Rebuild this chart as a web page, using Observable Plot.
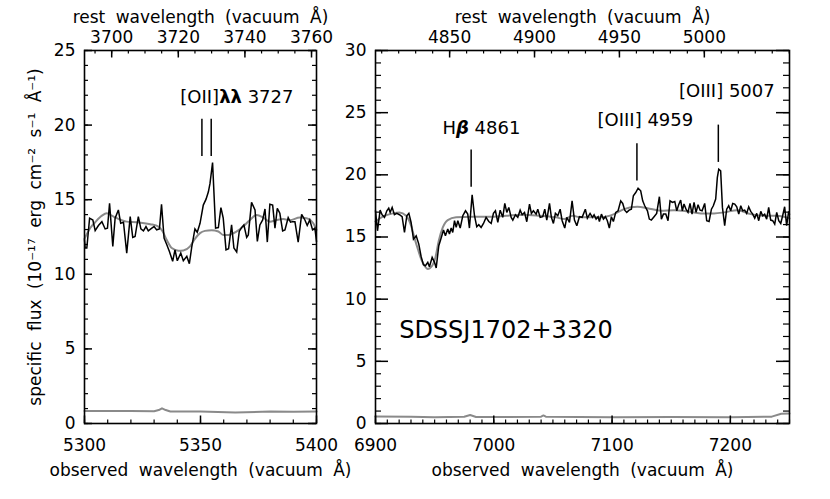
<!DOCTYPE html>
<html>
<head>
<meta charset="utf-8">
<script src="https://cdn.jsdelivr.net/npm/d3@7"></script>
<script src="https://cdn.jsdelivr.net/npm/@observablehq/plot@0.6"></script>
<style>
  html, body { margin: 0; padding: 0; background: #fff; }
  #wrap { display: flex; flex-direction: row; width: 830px; height: 499px; }
  #wrap svg { position: relative; }
  #wrap svg:first-child { z-index: 2; }
  svg text { font-family: "DejaVu Sans", sans-serif; }
</style>
</head>
<body>
<div id="wrap"></div>
<script>
// ---------------- data ----------------
const redshift = 0.4356;

// Left panel: observed spectrum around [OII]
const waveL = [5300.0,5300.3,5301.0,5302.2,5303.6,5304.6,5306.0,5307.5,5308.9,5309.9,5310.8,5312.2,5313.2,5314.6,5315.6,5316.8,5318.2,5319.7,5320.8,5321.8,5323.2,5324.3,5325.4,5326.5,5327.5,5329.0,5330.0,5331.1,5332.3,5333.2,5334.3,5335.4,5336.6,5338.0,5339.0,5340.0,5341.5,5342.6,5344.1,5345.2,5346.2,5347.6,5348.6,5349.8,5351.2,5352.4,5353.4,5354.1,5355.2,5356.5,5357.7,5358.8,5359.8,5361.0,5362.1,5363.4,5364.4,5365.6,5366.7,5367.7,5368.7,5369.9,5370.6,5372.0,5373.5,5374.5,5375.6,5376.8,5377.8,5378.8,5379.9,5381.1,5382.1,5383.1,5384.2,5385.4,5386.4,5387.8,5388.8,5389.7,5390.7,5392.1,5393.6,5395.0,5396.0,5397.1,5398.3,5399.3,5400.0];
const fluxL = [12.31,11.76,11.76,13.76,13.64,12.93,13.27,13.53,13.04,13.09,14.76,11.87,13.76,14.31,13.42,13.49,11.42,13.87,12.47,12.53,13.87,13.04,12.91,13.2,12.91,13.09,13.2,12.98,13.04,14.69,12.42,12.02,11.53,10.87,11.64,10.91,11.42,10.91,11.2,10.71,11.8,13.04,12.82,13.42,14.64,15.04,15.53,16.09,17.49,13.09,13.13,14.47,13.76,11.64,11.71,13.31,11.76,11.49,12.87,13.13,13.31,12.47,12.64,14.82,14.31,12.2,13.31,13.64,14.38,12.16,14.69,14.64,13.09,14.42,14.09,12.91,12.98,13.8,13.49,13.53,13.53,12.16,14.02,13.64,13.27,13.64,12.98,13.09,12.2];
const modelWaveL = [5300.0,5302.4,5304.6,5307.5,5309.6,5311.8,5313.9,5318.2,5322.5,5328.3,5331.9,5333.7,5335.4,5337.6,5340.5,5342.6,5345.5,5347.6,5349.8,5351.9,5354.8,5357.7,5359.8,5362.0,5365.6,5368.4,5371.3,5374.2,5377.1,5379.9,5382.8,5385.7,5388.5,5392.8,5395.7,5398.6,5400.0];
const modelFluxL = [12.38,13.09,13.49,13.93,14.09,13.93,13.76,13.53,13.49,13.36,13.2,12.87,12.31,11.76,11.58,11.6,11.87,12.38,12.76,12.91,12.96,12.87,12.64,12.64,12.87,13.2,13.64,13.98,13.8,13.53,13.64,13.71,13.62,13.8,13.76,13.42,12.98];
const errWaveL = [5300,5310,5320,5330,5332,5333.4,5335,5337,5350,5365,5380,5390,5400];
const errFluxL = [0.84,0.83,0.84,0.82,0.9,1.02,0.9,0.8,0.81,0.74,0.8,0.78,0.8];

// Right panel: observed spectrum around Hbeta / [OIII]
const waveR = [6900.0,6901.7,6903.9,6905.6,6907.6,6909.6,6911.2,6912.4,6914.1,6916.0,6918.0,6920.3,6922.5,6924.5,6926.5,6928.2,6930.1,6932.1,6934.4,6936.6,6938.6,6940.5,6942.2,6944.2,6945.6,6947.9,6949.9,6951.3,6953.5,6955.5,6957.5,6959.1,6961.1,6962.5,6964.0,6965.3,6966.8,6968.2,6969.6,6971.6,6973.8,6976.1,6978.0,6979.4,6981.7,6983.7,6985.6,6987.3,6989.3,6991.3,6993.5,6995.8,6997.8,6999.7,7001.4,7003.4,7005.4,7007.6,7009.3,7011.0,7012.7,7014.7,7016.1,7018.3,7020.3,7022.3,7024.0,7026.0,7027.9,7030.2,7031.8,7033.5,7035.8,7037.2,7039.2,7041.4,7043.1,7044.8,7047.1,7048.7,7050.4,7052.1,7054.1,7056.1,7057.8,7060.0,7061.7,7064.0,7066.2,7068.2,7070.2,7072.4,7074.7,7077.4,7079.1,7081.4,7083.4,7084.8,7086.5,7088.2,7089.3,7091.0,7092.7,7094.4,7096.0,7097.7,7099.4,7101.1,7103.1,7105.1,7107.3,7109.0,7110.7,7112.4,7114.4,7116.3,7118.0,7120.0,7122.0,7124.2,7125.9,7127.6,7129.9,7131.5,7133.2,7135.5,7137.7,7140.0,7141.7,7143.4,7145.4,7147.3,7149.0,7151.0,7153.0,7154.7,7156.3,7158.0,7159.4,7160.8,7162.5,7164.2,7165.9,7167.6,7169.3,7171.0,7172.7,7174.4,7176.1,7178.3,7180.0,7182.0,7184.0,7185.6,7187.6,7189.0,7190.2,7191.8,7193.3,7195.2,7196.9,7198.6,7200.3,7202.0,7203.7,7205.4,7207.1,7208.8,7210.4,7212.1,7213.8,7215.5,7217.2,7218.9,7220.6,7222.3,7224.0,7225.7,7227.3,7229.0,7230.7,7232.4,7234.1,7235.8,7237.5,7239.2,7240.9,7242.6,7244.2,7245.9,7247.6,7249.3,7250.0];
const fluxR = [17.11,15.5,17.16,16.79,16.58,17.11,17.32,16.98,17.38,16.79,16.9,16.79,16.63,15.37,16.71,16.9,16.17,14.83,15.1,14.43,13.42,12.77,12.69,12.96,12.61,13.36,12.96,12.51,14.3,14.92,15.56,15.1,15.64,15.24,15.72,15.37,16.31,15.77,16.31,15.72,16.71,17.11,16.84,15.72,18.39,16.71,15.83,15.99,15.77,16.09,16.58,16.25,16.09,16.9,17.11,16.17,17.16,16.58,17.7,16.98,17.38,16.58,16.36,16.79,16.58,17.16,16.79,16.98,16.23,17.65,16.9,17.11,16.84,17.24,16.58,16.63,17.24,16.36,17.7,16.58,16.09,16.9,16.71,17.24,16.31,15.72,16.58,16.17,17.91,16.36,15.9,16.63,16.58,17.24,16.52,16.9,16.58,16.79,16.44,16.63,16.25,16.84,16.44,16.63,16.31,15.72,16.63,16.25,16.98,17.11,17.91,17.7,17.16,16.98,17.16,17.24,18.32,18.58,18.93,18.72,17.91,17.51,17.11,16.44,16.36,16.63,16.9,18.24,16.44,16.84,16.84,16.31,17.91,17.78,17.86,17.11,17.59,17.97,17.11,17.65,17.24,16.98,17.7,16.84,17.78,16.98,17.59,17.16,17.11,17.7,16.31,16.25,17.24,17.51,18.05,19.79,20.46,20.32,17.38,15.91,17.24,17.51,17.11,17.7,17.65,17.43,16.84,17.51,17.11,17.16,16.9,17.43,17.06,16.84,16.52,16.9,16.31,17.06,16.71,16.84,16.44,17.38,16.36,16.31,16.04,16.98,16.31,16.09,16.71,17.43,15.91,17.06,16.84];
const modelWaveR = [6900.0,6906.2,6914.6,6920.3,6925.9,6930.1,6933.0,6935.8,6938.6,6941.4,6944.2,6947.9,6950.7,6953.5,6956.9,6961.1,6968.2,6982.3,6996.3,7010.4,7024.5,7038.6,7052.7,7059.7,7066.8,7073.5,7090.4,7101.7,7110.1,7121.4,7129.9,7141.1,7152.4,7163.7,7175.0,7186.2,7194.7,7205.9,7217.2,7228.5,7239.7,7250.0];
const modelFluxR = [16.25,16.63,16.9,16.98,16.71,15.91,14.91,14.03,13.23,12.69,12.43,12.69,13.36,14.7,15.77,16.36,16.58,16.63,16.63,16.71,16.79,16.71,16.58,16.44,16.7,16.58,16.58,16.84,17.24,17.43,17.32,17.11,17.16,17.06,16.9,16.9,16.98,17.16,16.84,16.71,16.71,16.5];
const errWaveR = [6900,6930,6950,6975,6980,6985,7000,7040,7042,7044,7100,7150,7200,7235,7243,7250];
const errFluxR = [0.56,0.55,0.5,0.55,0.68,0.52,0.52,0.55,0.65,0.55,0.5,0.52,0.5,0.55,0.78,0.8];

// emission-line markers (rest vacuum wavelengths)
const lineRestL = [3727.09, 3729.88];
const lineRestR = [4862.68, 4960.30, 5008.24];
const markTopL = [20.4, 20.4];
const markBotL = [17.9, 17.9];
const markTopR = [22.0, 22.5, 24.0];
const markBotR = [19.0, 19.5, 21.0];

// annotation labels (observed wavelength, flux)
const labelTextL = ["[OII]λλ 3727"];
const labelXL = [5341.3];
const labelYL = [21.5];
const labelTextR = ["Hβ 4861", "[OIII] 4959", "[OIII] 5007", "SDSSJ1702+3320"];
const labelXR = [6956.6, 7087.7, 7156.6, 6920.0];
const labelYR = [23.3, 23.9, 26.3, 6.87];

// ticks
const obsTicksL = [5300, 5350, 5400];
const restTicksL = [3700, 3720, 3740, 3760];
const obsTicksR = [6900, 7000, 7100, 7200];
const restTicksR = [4850, 4900, 4950, 5000];
const yTicksL = [0, 5, 10, 15, 20, 25];
const yTicksR = [0, 5, 10, 15, 20, 25, 30];

const xTitle = "observed wavelength (vacuum Å)";
const topTitle = "rest wavelength (vacuum Å)";
const yTitle = "specific flux (10⁻¹⁷ erg cm⁻² s⁻¹ Å⁻¹)";

// ---------------- drawing ----------------
const H = 499, MT = 50, MB = 76;
const PH = H - MT - MB;
const toObs = r => r * (1 + redshift);
const toRest = o => o / (1 + redshift);

function panel(cfg) {
  const PW = cfg.width - cfg.ml - cfg.mr;
  const spec = cfg.wave.map((w, i) => ({w, f: cfg.flux[i]}));
  const model = cfg.mwave.map((w, i) => ({w, f: cfg.mflux[i]}));
  const err = cfg.ewave.map((w, i) => ({w, f: cfg.eflux[i]}));
  const marks = cfg.lineRest.map((r, i) => ({x: toObs(r), y1: cfg.mbot[i], y2: cfg.mtop[i]}));
  const labels = cfg.ltext.map((t, i) => ({t, x: cfg.lx[i], y: cfg.ly[i]}));
  const restMinor = d3.range(cfg.restMinor[0], cfg.restMinor[1] + 1e-9, cfg.restMinor[2]).map(toObs);
  const obsMinor = d3.range(cfg.domain[0], cfg.domain[1] + 1e-9, cfg.obsMinorStep);
  const yMinor = d3.range(0, cfg.ydomain[1] + 1e-9, 1);
  const mk = [
    Plot.line(err, {x: "w", y: "f", stroke: "#8a8a8a", strokeWidth: 2, curve: "linear"}),
    Plot.line(model, {x: "w", y: "f", stroke: "#8a8a8a", strokeWidth: 2, curve: "monotone-x"}),
    Plot.line(spec, {x: "w", y: "f", stroke: "#000", strokeWidth: 1.5, strokeLinejoin: "miter", strokeMiterlimit: 3}),
    Plot.ruleX(marks, {x: "x", y1: "y1", y2: "y2", stroke: "#000", strokeWidth: 1.5}),
    Plot.text(labels.filter(d => !d.t.startsWith("SDSS")), {x: "x", y: "y", text: "t", textAnchor: "start", lineAnchor: "bottom", fontSize: 18}),
    Plot.text(labels.filter(d => d.t.startsWith("SDSS")), {x: "x", y: "y", text: "t", textAnchor: "start", lineAnchor: "bottom", fontSize: 24}),
    // bottom ticks (observed)
    Plot.ruleX(obsMinor, {insetTop: PH - 3.5, stroke: "#000", strokeWidth: 1.2}),
    Plot.ruleX(cfg.obsTicks, {insetTop: PH - 7.5, stroke: "#000", strokeWidth: 1.5}),
    // top ticks (rest)
    Plot.ruleX(restMinor, {insetBottom: PH - 3.5, stroke: "#000", strokeWidth: 1.2}),
    Plot.ruleX(cfg.restTicks.map(toObs), {insetBottom: PH - 7.5, stroke: "#000", strokeWidth: 1.5}),
    // y ticks left & right
    Plot.ruleY(yMinor, {insetRight: PW - cfg.yMinorLen, stroke: "#000", strokeWidth: 1.2}),
    Plot.ruleY(cfg.yTicks, {insetRight: PW - cfg.yMajorLen, stroke: "#000", strokeWidth: 1.5}),
    Plot.ruleY(yMinor, {insetLeft: PW - cfg.yMinorLen, stroke: "#000", strokeWidth: 1.2}),
    Plot.ruleY(cfg.yTicks, {insetLeft: PW - cfg.yMajorLen, stroke: "#000", strokeWidth: 1.5}),
    Plot.frame({stroke: "#000", strokeWidth: 1.6}),
    Plot.axisX(cfg.obsTicks, {anchor: "bottom", tickSize: 0, tickPadding: 15, fontSize: 17, label: null, tickFormat: d => String(d)}),
    Plot.axisX(cfg.restTicks.map(toObs), {anchor: "top", tickSize: 0, tickPadding: 8, fontSize: 17, label: null, tickFormat: d => String(Math.round(toRest(d)))}),
    Plot.axisY(cfg.yTicks, {anchor: "left", tickSize: 0, tickPadding: 9, fontSize: 17, label: null, tickFormat: d => String(d)}),
    Plot.text([xTitle], {frameAnchor: "bottom", dy: 52, lineAnchor: "bottom", textAnchor: "middle", fontSize: 17}),
    Plot.text([topTitle], {frameAnchor: "top", dy: -28, lineAnchor: "bottom", textAnchor: "middle", fontSize: 17})
  ];
  if (cfg.yTitle) {
    mk.push(Plot.text([cfg.yTitle], {frameAnchor: "left", dx: -49, rotate: -90, lineAnchor: "middle", textAnchor: "middle", fontSize: 17}));
  }
  return Plot.plot({
    width: cfg.width, height: H,
    marginLeft: cfg.ml, marginRight: cfg.mr, marginTop: MT, marginBottom: MB,
    style: {fontFamily: "DejaVu Sans", fontSize: "17px", background: "transparent", overflow: "visible", color: "#000"},
    x: {domain: cfg.domain, axis: null},
    y: {domain: cfg.ydomain, axis: null},
    marks: mk
  });
}

const left = panel({
  width: 330, ml: 84, mr: 14,
  domain: [5300, 5400], ydomain: [0, 25],
  wave: waveL, flux: fluxL, mwave: modelWaveL, mflux: modelFluxL, ewave: errWaveL, eflux: errFluxL,
  lineRest: lineRestL, mtop: markTopL, mbot: markBotL,
  ltext: labelTextL, lx: labelXL, ly: labelYL,
  obsTicks: obsTicksL, restTicks: restTicksL, yTicks: yTicksL,
  restMinor: [3695, 3760, 5], obsMinorStep: 10, yMinorLen: 4, yMajorLen: 8,
  yTitle: yTitle
});
const right = panel({
  width: 500, ml: 45, mr: 41,
  domain: [6900, 7250], ydomain: [0, 30],
  wave: waveR, flux: fluxR, mwave: modelWaveR, mflux: modelFluxR, ewave: errWaveR, eflux: errFluxR,
  lineRest: lineRestR, mtop: markTopR, mbot: markBotR,
  ltext: labelTextR, lx: labelXR, ly: labelYR,
  obsTicks: obsTicksR, restTicks: restTicksR, yTicks: yTicksR,
  restMinor: [4810, 5050, 10], obsMinorStep: 10, yMinorLen: 6, yMajorLen: 13,
  yTitle: null
});
const wrap = document.getElementById("wrap");
wrap.appendChild(left);
wrap.appendChild(right);

// styling of Greek letters in labels
function restyle(svg) {
  svg.querySelectorAll("text").forEach(t => {
    const s = t.textContent;
    if (s === "[OII]λλ 3727" || s === "Hβ 4861") {
      const m = s.match(/^([^λβ]*)([λβ]+)(.*)$/);
      t.textContent = "";
      const ns = "http://www.w3.org/2000/svg";
      const a = document.createElementNS(ns, "tspan"); a.textContent = m[1];
      const b = document.createElementNS(ns, "tspan"); b.textContent = m[2];
      b.setAttribute("font-weight", "bold");
      if (m[2].includes("β")) b.setAttribute("font-style", "italic");
      const c = document.createElementNS(ns, "tspan"); c.textContent = m[3];
      t.append(a, b, c);
    }
  });
}
restyle(left); restyle(right);
// wider word spacing for axis titles like the original
[left, right].forEach(svg => svg.querySelectorAll("text").forEach(t => {
  if (t.textContent === xTitle || t.textContent === topTitle || t.textContent === yTitle) t.setAttribute("word-spacing", "5");
}));
</script>
</body>
</html>
